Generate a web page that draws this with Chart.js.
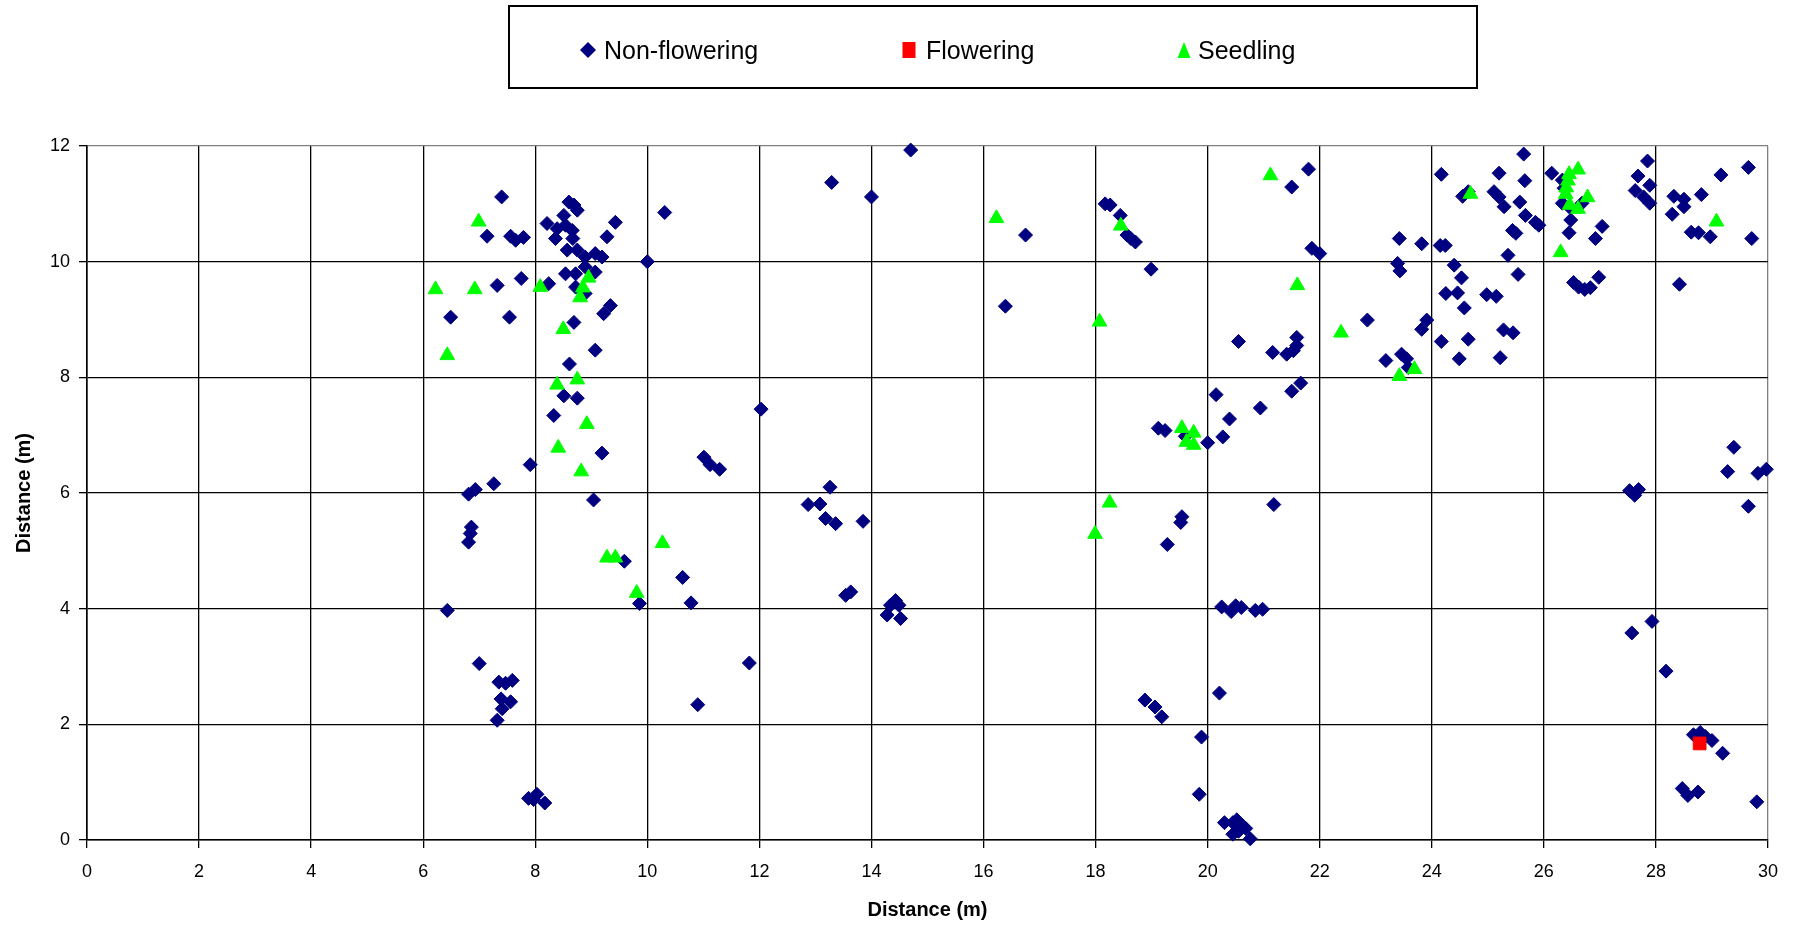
<!DOCTYPE html>
<html>
<head>
<meta charset="utf-8">
<script src="https://cdn.jsdelivr.net/npm/chart.js@4.4.1/dist/chart.umd.min.js"></script>
<style>
html,body{margin:0;padding:0;background:#fff;}
#wrap{position:relative;width:1796px;height:927px;}
</style>
</head>
<body>
<div id="wrap"><canvas id="c" width="1796" height="927"></canvas></div>
<script>
// ---- Data ----
const seriesNames = ["Non-flowering", "Flowering", "Seedling"];
const xTickValues = [0,2,4,6,8,10,12,14,16,18,20,22,24,26,28,30];
const yTickValues = [0,2,4,6,8,10,12];

const nonFloweringX = [
 7.40,7.14,7.56,7.65,7.79,8.60,8.69,8.75,8.51,8.21,8.39,8.54,8.66,8.36,8.67,
 9.43,9.28,8.57,8.75,9.07,9.19,8.89,10.31,10.00,8.89,8.54,8.72,9.07,8.24,7.32,
 7.75,8.72,8.89,9.34,9.22,6.49,7.54,8.69,9.07,8.61,8.51,8.75,8.33,9.19,7.91,
 7.26,6.93,6.81,12.03,11.01,11.12,11.29,9.04,
 6.86,6.84,6.81,6.43,9.59,10.63,9.86,10.78,11.82,7.00,7.35,7.47,7.59,7.39,7.56,
 7.41,7.32,10.90,7.88,8.03,8.17,7.97,
 13.29,14.00,14.70,16.75,16.39,18.17,18.26,18.44,18.56,18.63,18.71,18.99,19.12,19.24,13.26,
 12.87,13.08,13.18,13.36,13.85,13.54,13.63,14.43,14.34,14.49,14.28,14.52,18.88,19.06,19.18,19.28,
 21.80,21.50,21.86,22.00,20.55,21.16,21.41,21.59,21.59,21.53,20.15,20.39,20.94,21.50,21.66,
 20.27,20.00,19.60,21.18,22.85,23.42,23.82,24.15,24.24,23.39,23.43,24.40,24.53,24.25,24.46,
 24.58,24.98,23.91,23.82,24.17,24.65,24.49,23.18,23.46,23.55,23.58,24.17,24.55,24.65,
 19.54,19.52,20.25,20.42,20.50,20.60,20.85,20.98,20.21,19.89,19.85,20.30,20.45,20.52,20.62,
 20.45,20.55,20.68,20.76,
 25.64,25.20,25.66,25.11,25.20,25.57,25.29,25.67,25.44,25.50,25.91,25.85,25.36,25.54,25.15,
 25.28,25.45,25.22,26.14,26.33,26.36,26.33,26.45,26.68,26.48,26.45,27.04,26.92,26.53,26.62,
 26.73,26.83,26.98,27.85,27.68,27.89,27.63,27.78,27.89,28.32,28.50,28.50,28.29,28.81,29.16,
 29.65,28.63,28.76,28.97,29.71,28.42,29.39,29.28,29.82,29.97,27.53,27.62,27.69,
 29.65,27.93,27.57,28.18,28.67,28.79,28.88,29.00,29.19,28.47,28.57,28.75,29.80
];
const nonFloweringY = [
 11.12,10.44,10.44,10.37,10.42,11.03,10.98,10.89,10.80,10.66,10.57,10.63,10.54,10.40,10.40,
 10.68,10.43,10.20,10.20,10.14,10.08,10.08,10.85,10.00,9.91,9.79,9.79,9.82,9.62,9.59,
 9.71,9.56,9.45,9.24,9.10,9.04,9.04,8.95,8.47,8.23,7.68,7.64,7.34,6.69,6.49,
 6.16,6.06,5.98,7.45,6.62,6.49,6.41,5.88,
 5.41,5.30,5.15,3.97,4.82,4.54,4.09,4.10,3.06,3.05,2.73,2.71,2.76,2.44,2.39,
 2.27,2.07,2.34,0.72,0.79,0.64,0.70,
 11.37,11.12,11.93,10.46,9.23,11.00,10.98,10.80,10.46,10.40,10.34,9.87,7.12,7.08,6.10,
 5.80,5.81,5.56,5.47,5.51,4.23,4.29,4.14,4.06,4.06,3.89,3.83,2.42,2.30,2.13,5.11,
 11.60,11.29,10.23,10.14,8.62,8.43,8.40,8.69,8.55,8.46,7.70,7.28,7.47,7.76,7.90,
 6.97,6.87,6.98,5.80,8.99,10.40,10.31,10.28,10.28,9.97,9.84,9.94,9.72,9.45,9.46,
 9.20,9.43,8.99,8.83,8.62,8.66,8.32,8.29,8.40,8.32,8.17,11.51,11.13,11.21,
 5.59,5.49,4.03,3.95,4.05,4.02,3.97,3.99,2.54,1.78,0.79,0.30,0.30,0.35,0.25,
 0.10,0.15,0.20,0.02,
 11.86,11.53,11.40,11.21,11.12,11.03,10.95,10.80,10.54,10.49,10.63,10.68,10.11,9.78,9.40,
 8.82,8.77,8.34,11.53,11.41,11.27,11.01,10.95,11.01,10.72,10.50,10.61,10.40,9.64,9.56,
 9.52,9.55,9.73,11.74,11.48,11.32,11.23,11.12,11.01,11.13,11.08,10.95,10.82,11.16,11.50,
 11.63,10.51,10.50,10.43,10.40,9.61,6.79,6.37,6.34,6.41,6.04,5.96,6.06,
 5.77,3.78,3.58,2.92,1.82,1.86,1.79,1.72,1.50,0.89,0.77,0.83,0.66
];

const floweringX = [28.78];
const floweringY = [1.67];

const seedlingX = [
 6.99,6.22,6.92,8.09,8.95,8.85,8.80,8.50,6.43,8.39,8.75,8.92,8.41,8.82,
 9.28,9.43,10.27,9.81,
 16.23,18.45,18.07,18.25,17.99,
 21.12,21.60,22.38,23.42,23.69,24.69,
 19.54,19.75,19.75,19.62,
 26.45,26.43,26.40,26.39,26.61,26.78,26.46,26.61,26.30,29.08
];
const seedlingY = [
 10.69,9.52,9.52,9.56,9.72,9.55,9.38,8.83,8.38,7.87,7.96,7.19,6.78,6.37,
 4.88,4.88,5.13,4.27,
 10.75,10.62,8.96,5.83,5.29,
 11.49,9.59,8.77,8.02,8.14,11.17,
 7.12,7.04,6.83,6.88,
 11.51,11.40,11.28,11.17,11.59,11.11,10.98,10.91,10.16,10.69
];

// ---- Build points ----
function pts(xs, ys){ return xs.map((x,i)=>({x:x, y:ys[i]})); }

const NAVY = '#000080', RED = '#FF0000', GREEN = '#00FF00';

// Legend drawn inside a bordered box above the plot
const boxedLegend = {
  id: 'boxedLegend',
  afterDraw(chart){
    const ctx = chart.ctx;
    ctx.save();
    ctx.strokeStyle = '#000';
    ctx.lineWidth = 2;
    ctx.strokeRect(509, 6, 968, 82);
    const cy = 50;
    const items = [
      {x: 588, tx: 604, style: 'diamond', color: NAVY, text: seriesNames[0]},
      {x: 909, tx: 926, style: 'square', color: RED, text: seriesNames[1]},
      {x: 1184, tx: 1198, style: 'triangle', color: GREEN, text: seriesNames[2]}
    ];
    items.forEach(it=>{
      ctx.fillStyle = it.color;
      ctx.beginPath();
      if (it.style === 'diamond') {
        ctx.moveTo(it.x, cy-8); ctx.lineTo(it.x+8, cy); ctx.lineTo(it.x, cy+8); ctx.lineTo(it.x-8, cy);
      } else if (it.style === 'square') {
        ctx.rect(it.x-6.5, cy-8, 13, 16);
      } else {
        ctx.moveTo(it.x, cy-8); ctx.lineTo(it.x+6.5, cy+8); ctx.lineTo(it.x-6.5, cy+8);
      }
      ctx.closePath();
      ctx.fill();
      ctx.fillStyle = '#000';
      ctx.font = '25px "Liberation Sans", Arial, sans-serif';
      ctx.textBaseline = 'alphabetic';
      ctx.textAlign = 'left';
      ctx.fillText(it.text, it.tx, 59);
    });
    ctx.restore();
  }
};

new Chart(document.getElementById('c'), {
  type: 'scatter',
  data: {
    datasets: [
      {label: seriesNames[0], data: pts(nonFloweringX, nonFloweringY), pointStyle: 'rectRot',
       pointRadius: 7, pointBorderWidth: 1, backgroundColor: NAVY, borderColor: NAVY, order: 2, clip: false},
      {label: seriesNames[1], data: pts(floweringX, floweringY), pointStyle: 'rect',
       pointRadius: 9, pointBorderWidth: 1, backgroundColor: RED, borderColor: RED, order: 1, clip: false},
      {label: seriesNames[2], data: pts(seedlingX, seedlingY), pointStyle: 'triangle',
       pointRadius: 8.5, pointBorderWidth: 1, backgroundColor: GREEN, borderColor: GREEN, order: 0, clip: false}
    ]
  },
  options: {
    responsive: false,
    animation: false,
    events: [],
    layout: {padding: {top: 146, right: 28, left: 0, bottom: 0}},
    plugins: {legend: {display: false}, tooltip: {enabled: false}},
    scales: {
      x: {
        type: 'linear', min: 0, max: 30,
        afterBuildTicks(scale){ scale.ticks = xTickValues.map(v=>({value:v})); },
        afterFit(scale){ scale.height = 87; },
        ticks: {color: '#000', font: {family: '"Liberation Sans", Arial, sans-serif', size: 18}, padding: 13, maxRotation: 0, autoSkip: false},
        grid: {color: c => (c.tick && c.tick.value === 30) ? '#808080' : '#000', lineWidth: 1.3, tickLength: 8, tickColor: '#000'},
        border: {color: '#000', width: 1.6},
        title: {display: true, text: 'Distance (m)', color: '#000',
                font: {family: '"Liberation Sans", Arial, sans-serif', size: 20, weight: 'bold'}, padding: {top: 0, bottom: 5}}
      },
      y: {
        type: 'linear', min: 0, max: 12,
        afterBuildTicks(scale){ scale.ticks = yTickValues.map(v=>({value:v})); },
        afterFit(scale){ scale.width = 87; },
        ticks: {color: '#000', font: {family: '"Liberation Sans", Arial, sans-serif', size: 18}, padding: 9},
        grid: {color: c => (c.tick && c.tick.value === 12) ? '#808080' : '#000', lineWidth: 1.3, tickLength: 8, tickColor: '#000'},
        border: {color: '#000', width: 1.6},
        title: {display: true, text: 'Distance (m)', color: '#000',
                font: {family: '"Liberation Sans", Arial, sans-serif', size: 20, weight: 'bold'}, padding: {top: 12, bottom: 0}}
      }
    }
  },
  plugins: [boxedLegend]
});
</script>
</body>
</html>
